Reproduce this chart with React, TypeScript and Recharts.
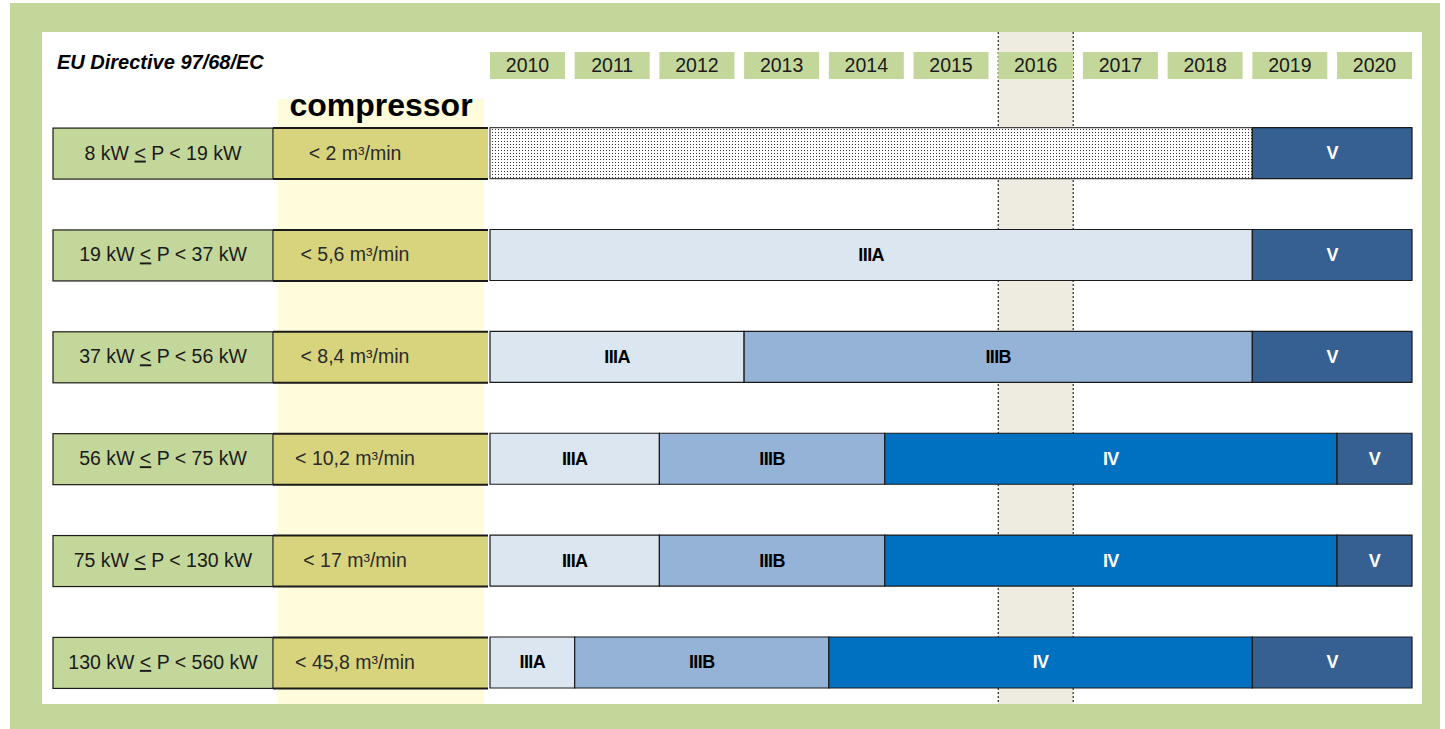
import * as React from "react";
import {
  BarChart,
  Bar,
  XAxis,
  YAxis,
  ReferenceArea,
  LabelList,
} from "recharts";

// year columns on the timeline (index 0 = 2010)
const years = ["2010", "2011", "2012", "2013", "2014", "2015", "2016", "2017", "2018", "2019", "2020"];

// engine power classes and the matching compressor flow
const powerLow = ["8", "19", "37", "56", "75", "130"];
const powerHigh = ["19", "37", "56", "75", "130", "560"];
const compressorFlow = [
  "< 2 m³/min",
  "< 5,6 m³/min",
  "< 8,4 m³/min",
  "< 10,2 m³/min",
  "< 17 m³/min",
  "< 45,8 m³/min",
];

// how many years each stage lasts in each row
const noStage = [9, 0, 0, 0, 0, 0];
const stageIIIA = [0, 9, 3, 2, 2, 1];
const stageIIIB = [0, 0, 6, 2.66, 2.66, 3];
const stageIV = [0, 0, 0, 5.34, 5.34, 5];
const stageV = [1.885, 1.885, 1.885, 0.885, 0.885, 1.885];

const TIMELINE_END = 10.885; // right edge of the 2020 column
const HIGHLIGHT_YEAR = 6; // 2016

const FONT = "'Liberation Sans', Arial, sans-serif";
const GREEN = "#C4D79B";
const COMP_FILL = "#D8D47D";
const PALE = "#FFFCDB";
const SHADE = "#EEECE1";
const EDGE = "#1a1a1a";

const powerLabels = powerLow.map((lo, i) => `${lo} kW ≤ P < ${powerHigh[i]} kW`);

const data = powerLabels.map((name, i) => ({
  name,
  none: noStage[i],
  iiia: stageIIIA[i],
  iiib: stageIIIB[i],
  iv: stageIV[i],
  v: stageV[i],
}));

function YearTick(props: any) {
  const { x, payload } = props;
  return (
    <g>
      <rect x={x} y={52} width={75} height={27} fill={GREEN} />
      <text x={x + 37.5} y={72} textAnchor="middle" fontFamily={FONT} fontSize={19.5} fill={EDGE}>
        {years[payload.value]}
      </text>
    </g>
  );
}

function RowTick(props: any) {
  const { y, payload } = props;
  const i = powerLabels.indexOf(payload.value);
  const h = 51;
  const top = y - h / 2;
  return (
    <g>
      <rect x={53} y={top} width={220} height={h} fill={GREEN} stroke={EDGE} strokeWidth={1.2} />
      <rect x={274} y={top} width={214} height={h} fill={COMP_FILL} />
      <line x1={273} x2={488} y1={top} y2={top} stroke={EDGE} strokeWidth={2} />
      <line x1={273} x2={488} y1={top + h} y2={top + h} stroke={EDGE} strokeWidth={2} />
      <text x={163} y={y + 6} textAnchor="middle" fontFamily={FONT} fontSize={19.5} fill={EDGE}>
        {`${powerLow[i]} kW `}
        <tspan style={{ textDecoration: "underline" }}>{"<"}</tspan>
        {` P < ${powerHigh[i]} kW`}
      </text>
      <text x={355} y={y + 6} textAnchor="middle" fontFamily={FONT} fontSize={19.5} fill="#2a2a2a">
        {compressorFlow[i]}
      </text>
    </g>
  );
}

// shaded 2016 column, running the full height of the white panel
function HighlightColumn(props: any) {
  const { x, width } = props;
  return (
    <g>
      <rect x={x} y={32} width={width} height={672} fill={SHADE} />
      <line x1={x} x2={x} y1={32} y2={704} stroke="#000" strokeDasharray="2 2" />
      <line x1={x + width} x2={x + width} y1={32} y2={704} stroke="#000" strokeDasharray="2 2" />
    </g>
  );
}

const stageLabel = (text: string, color: string) => (props: any) => {
  const { x, y, width, height, value } = props;
  if (!value || !width) return null;
  return (
    <text
      x={x + width / 2}
      y={y + height / 2 + 6}
      textAnchor="middle"
      fontFamily={FONT}
      fontWeight="bold"
      fontSize={18}
      letterSpacing={-0.6}
      fill={color}
    >
      {text}
    </text>
  );
};

export default function App() {
  return (
    <div style={{ position: "absolute", left: 0, top: 0, width: 1445, height: 729, background: "#fff" }}>
      <svg width={1445} height={729} style={{ position: "absolute", left: 0, top: 0 }}>
        <defs>
          <pattern id="dots" width={3} height={3} patternUnits="userSpaceOnUse">
            <rect width={3} height={3} fill="#fff" />
            <rect width={1} height={1} fill="#333" />
          </pattern>
        </defs>
        <rect x={10} y={3} width={1430} height={726} fill={GREEN} />
        <rect x={42} y={32} width={1380} height={672} fill="#fff" />
        <rect x={278} y={99} width={206} height={605} fill={PALE} />
        <text x={57} y={69} fontFamily={FONT} fontWeight="bold" fontStyle="italic" fontSize={20} fill="#000">
          EU Directive 97/68/EC
        </text>
        <text x={381} y={116} textAnchor="middle" fontFamily={FONT} fontWeight="bold" fontSize={32} fill="#000">
          compressor
        </text>
      </svg>
      <div style={{ position: "absolute", left: 0, top: 0 }}>
        <BarChart
          width={1445}
          height={729}
          data={data}
          layout="vertical"
          margin={{ top: 31, right: 33, bottom: 25, left: 53 }}
          barSize={51}
        >
          <ReferenceArea
            x1={HIGHLIGHT_YEAR}
            x2={HIGHLIGHT_YEAR + 0.885}
            ifOverflow="visible"
            shape={<HighlightColumn />}
          />
          <XAxis
            type="number"
            orientation="top"
            domain={[0, TIMELINE_END]}
            ticks={years.map((_, i) => i)}
            height={1}
            axisLine={false}
            tickLine={false}
            tick={<YearTick />}
            interval={0}
          />
          <YAxis
            type="category"
            dataKey="name"
            width={437}
            axisLine={false}
            tickLine={false}
            tick={<RowTick />}
            padding={{ top: 70.65, bottom: -9.85 }}
            interval={0}
          />
          <Bar dataKey="none" stackId="s" fill="url(#dots)" stroke="#444" strokeWidth={1.2} isAnimationActive={false} />
          <Bar dataKey="iiia" stackId="s" fill="#DCE6F1" stroke={EDGE} strokeWidth={1.2} isAnimationActive={false}>
            <LabelList dataKey="iiia" content={stageLabel("IIIA", "#000")} />
          </Bar>
          <Bar dataKey="iiib" stackId="s" fill="#95B3D7" stroke={EDGE} strokeWidth={1.2} isAnimationActive={false}>
            <LabelList dataKey="iiib" content={stageLabel("IIIB", "#000")} />
          </Bar>
          <Bar dataKey="iv" stackId="s" fill="#0070C0" stroke={EDGE} strokeWidth={1.2} isAnimationActive={false}>
            <LabelList dataKey="iv" content={stageLabel("IV", "#fff")} />
          </Bar>
          <Bar dataKey="v" stackId="s" fill="#366092" stroke={EDGE} strokeWidth={1.2} isAnimationActive={false}>
            <LabelList dataKey="v" content={stageLabel("V", "#fff")} />
          </Bar>
        </BarChart>
      </div>
    </div>
  );
}
